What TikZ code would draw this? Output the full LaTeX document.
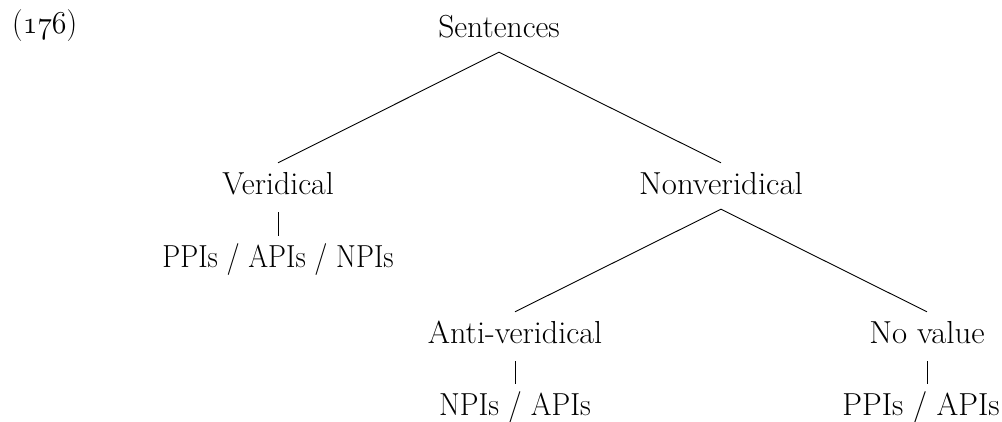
\documentclass[tikz,border=0pt]{standalone}
\usepackage{graphicx}
\newcommand{\bigtxt}[2]{\scalebox{#1}[1.28]{\fontsize{24.88}{30}\selectfont #2}}
\begin{document}
\begin{tikzpicture}[x=1pt,y=-1pt,
  lbl/.style={anchor=base,inner xsep=0pt,inner ysep=8pt,text height=23pt,text depth=7pt},
  edge/.style={line width=0.9pt},
  vedge/.style={line width=0.9pt,shorten <=3pt}]
\useasboundingbox (0,0) rectangle (1002,421);
\node[lbl,anchor=base west] (ex) at (12,33) {\bigtxt{1.20}{({\usefont{OML}{cmm}{m}{it}176})}};
\node[lbl] (S) at (499,37) {\bigtxt{1.27}{Sentences}};
\node[lbl] (V) at (278,194) {\bigtxt{1.28}{Veridical}};
\node[lbl] (N) at (721,194) {\bigtxt{1.32}{Nonveridical}};
\node[lbl] (PAN) at (278,267) {\bigtxt{1.15}{PPIs / APIs / NPIs}};
\node[lbl] (A) at (515,343) {\bigtxt{1.29}{Anti-veridical}};
\node[lbl] (NV) at (927,343) {\bigtxt{1.32}{No value}};
\node[lbl] (NA) at (515,415) {\bigtxt{1.20}{NPIs / APIs}};
\node[lbl] (PA) at (921,415) {\bigtxt{1.26}{PPIs / APIs}};
\draw[edge] (V.north) -- (S.south) -- (N.north);
\draw[edge] (A.north) -- (N.south) -- (NV.north);
\draw[vedge] (V.south) -- (PAN.north);
\draw[vedge] (A.south) -- (NA.north);
\draw[vedge] (NV.south) -- (NV.south |- PA.north);
\end{tikzpicture}
\end{document}
